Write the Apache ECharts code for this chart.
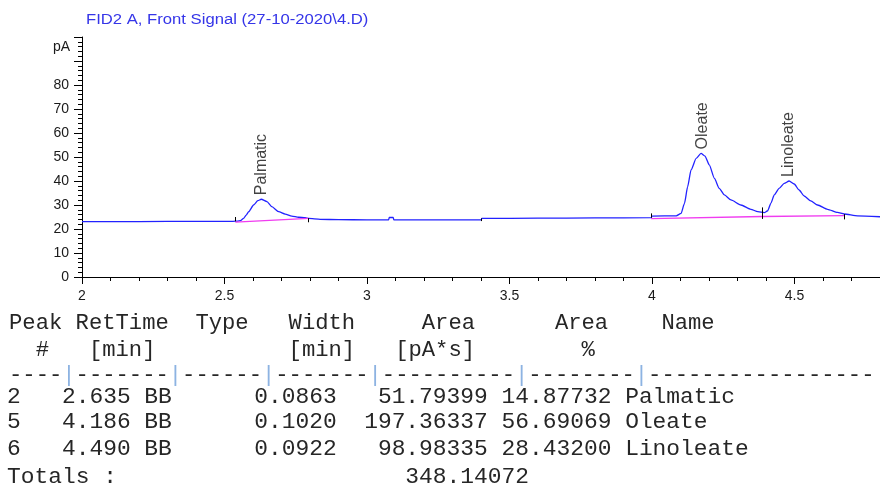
<!DOCTYPE html>
<html><head><meta charset="utf-8">
<script src="https://cdn.jsdelivr.net/npm/echarts@6/dist/echarts.min.js"></script>
<style>html,body{margin:0;padding:0;background:#fff}#c{width:880px;height:483px}</style>
</head><body><div id="c"></div>
<script>
// ---------- chart data ----------
const titleText = 'FID2 A, Front Signal (27-10-2020\\4.D)';
const yUnit = 'pA';
const xMin = 2, xMax = 4.8, xStep = 0.5;
const yMin = 0, yMax = 100, yStep = 10, yLabelMax = 80;

const traceTime = [2.00, 2.20, 2.40, 2.53, 2.545, 2.556, 2.567, 2.576, 2.585, 2.602, 2.617, 2.629, 2.649, 2.666, 2.690, 2.713, 2.736, 2.760, 2.783, 2.795, 2.836, 2.90, 3.00, 3.076, 3.078, 3.092, 3.094, 3.20, 3.40, 3.403, 3.60, 3.80, 3.997, 4.000, 4.085, 4.102, 4.114, 4.125, 4.137, 4.155, 4.172, 4.186, 4.201, 4.219, 4.236, 4.254, 4.277, 4.312, 4.347, 4.371, 4.394, 4.406, 4.417, 4.429, 4.446, 4.464, 4.481, 4.499, 4.516, 4.534, 4.557, 4.581, 4.616, 4.651, 4.674, 4.721, 4.80];
const traceSignal = [23.1, 23.1, 23.2, 23.2, 23.3, 23.5, 24.4, 25.8, 27.2, 30.0, 31.8, 32.4, 31.4, 29.3, 27.2, 26.2, 25.4, 24.9, 24.7, 24.4, 24.0, 23.9, 23.8, 23.8, 24.8, 24.8, 23.8, 23.8, 23.8, 24.4, 24.5, 24.6, 24.7, 25.4, 25.5, 26.5, 30.7, 37.6, 44.6, 49.4, 51.5, 50.4, 46.7, 41.1, 36.9, 34.2, 32.1, 30.0, 28.2, 27.2, 26.8, 27.6, 30.7, 34.2, 36.9, 39.0, 40.0, 38.75, 36.25, 33.75, 31.7, 30.0, 28.2, 26.9, 26.25, 25.5, 25.1];

const peakNames = ['Palmatic', 'Oleate', 'Linoleate'];
const peakApexTime = [2.629, 4.176, 4.481];
const peakApexSignal = [32.4, 51.5, 40.0];

const baseStartTime = [2.538, 3.997, 4.388];
const baseStartSignal = [22.9, 24.3, 25.2];
const baseEndTime = [2.795, 4.388, 4.674];
const baseEndSignal = [24.4, 25.2, 25.6];

const eventTime = [2.538, 2.795, 3.402, 3.997, 4.388, 4.674];
const eventLow = [23.2, 22.8, 23.3, 24.7, 24.2, 24.0];
const eventHigh = [25.0, 24.5, 24.4, 26.5, 29.0, 26.2];

// ---------- report table ----------
const peakNums = [2, 5, 6];
const retTimes = ['2.635', '4.186', '4.490'];
const peakTypes = ['BB', 'BB', 'BB'];
const peakWidths = ['0.0863', '0.1020', '0.0922'];
const peakAreas = ['51.79399', '197.36337', '98.98335'];
const areaPercents = ['14.87732', '56.69069', '28.43200'];
const totalArea = '348.14072';
const headerLine1 = 'Peak RetTime  Type   Width     Area      Area    Name';
const headerLine2 = '  #   [min]          [min]   [pA*s]        %';
const sepWidths = [4, 7, 6, 7, 10, 8, 17];

// ---------- build ----------
const tableColor = '#262626';
const hdrFont = '22.2px "Liberation Mono", monospace';
const rowFont = '22.9px "Liberation Mono", monospace';
const sepText = sepWidths.map(n => '-'.repeat(n)).join('{p||}');
const rowLines = peakNums.map((n, i) =>
  String(n).padEnd(4) + retTimes[i] + ' ' + peakTypes[i] + ' '.repeat(6) + peakWidths[i] +
  peakAreas[i].padStart(11) + ' ' + areaPercents[i] + ' ' + peakNames[i]);
const totalLine = 'Totals :' + ' '.repeat(21) + totalArea;
const rowY = [397, 422, 448.5];

function txt(x, y, text, font, fill, extra, align) {
  const a = align || 'left';
  return Object.assign({
    type: 'text', x: x, y: y, silent: true,
    style: { text: text, font: font, fill: fill, align: a, verticalAlign: 'middle',
             textAlign: a, textVerticalAlign: 'middle' }
  }, extra || {});
}

const graphics = [
  txt(86, 20, titleText, '14px "Liberation Sans", Arial, sans-serif', '#3535e8', { scaleX: 1.19 }),
  txt(70, 47, yUnit, '14px "Liberation Sans", Arial, sans-serif', '#1a1a1a', null, 'right'),
  txt(9, 323.5, headerLine1, hdrFont, tableColor),
  txt(9, 350, headerLine2, hdrFont, tableColor),
  { type: 'text', x: 9, y: 375, silent: true,
    style: { text: sepText, font: hdrFont, fill: tableColor, align: 'left', verticalAlign: 'middle',
             textAlign: 'left', textVerticalAlign: 'middle',
             rich: { p: { fill: '#8db3e2', font: hdrFont } } } },
  ...rowLines.map((s, i) => txt(7, rowY[i], s, rowFont, tableColor)),
  txt(7, 477, totalLine, rowFont, tableColor)
];

const traceData = traceTime.map((t, i) => [t, traceSignal[i]]);
const baselineSeries = baseStartTime.map((t, i) => ({
  type: 'line', showSymbol: false, silent: true, z: 4,
  data: [[t, baseStartSignal[i]], [baseEndTime[i], baseEndSignal[i]]],
  lineStyle: { color: '#f03cf0', width: 1.3 }
}));

const option = {
  animation: false,
  graphic: graphics,
  grid: { left: 82, top: 37, width: 800, height: 240, containLabel: false },
  xAxis: {
    type: 'value', min: xMin, max: xMax, interval: xStep,
    axisLine: { show: true, lineStyle: { color: '#000', width: 1 } },
    axisTick: { show: true, length: 7, lineStyle: { color: '#000' } },
    minorTick: { show: true, splitNumber: 5, length: 4, lineStyle: { color: '#000' } },
    axisLabel: { margin: 12, fontSize: 14, color: '#1a1a1a', fontFamily: '"Liberation Sans", Arial, sans-serif',
                 showMaxLabel: false, formatter: v => String(v) },
    splitLine: { show: false }, minorSplitLine: { show: false }
  },
  yAxis: {
    type: 'value', min: yMin, max: yMax, interval: yStep,
    axisLine: { show: true, lineStyle: { color: '#000', width: 1 } },
    axisTick: { show: true, length: 8, lineStyle: { color: '#000' } },
    minorTick: { show: true, splitNumber: 5, length: 4, lineStyle: { color: '#000' } },
    axisLabel: { margin: 13, fontSize: 14, color: '#1a1a1a', fontFamily: '"Liberation Sans", Arial, sans-serif',
                 formatter: v => (v <= yLabelMax ? String(v) : '') },
    splitLine: { show: false }, minorSplitLine: { show: false }
  },
  series: [
    {
      type: 'line', showSymbol: false, silent: true, z: 3,
      data: traceData, smooth: 0.2, smoothMonotone: 'x',
      lineStyle: { color: '#2222ff', width: 1.3 },
      markLine: {
        silent: true, symbol: ['none', 'none'], label: { show: false }, animation: false,
        lineStyle: { color: '#000', width: 1, type: 'solid' },
        emphasis: { disabled: true },
        data: eventTime.map((t, i) => [{ coord: [t, eventLow[i]] }, { coord: [t, eventHigh[i]] }])
      }
    },
    ...baselineSeries,
    {
      type: 'scatter', symbolSize: 0, silent: true, z: 5,
      data: peakNames.map((n, i) => ({ name: n, value: [peakApexTime[i], peakApexSignal[i]] })),
      label: {
        show: true, formatter: p => p.name, position: 'top', distance: 4, rotate: 90,
        align: 'left', verticalAlign: 'middle', fontSize: 16, color: '#111',
        fontFamily: '"Liberation Sans", Arial, sans-serif'
      }
    }
  ]
};

const chart = echarts.init(document.getElementById('c'), null, { renderer: 'canvas' });
chart.setOption(option);
</script>
</body></html>
